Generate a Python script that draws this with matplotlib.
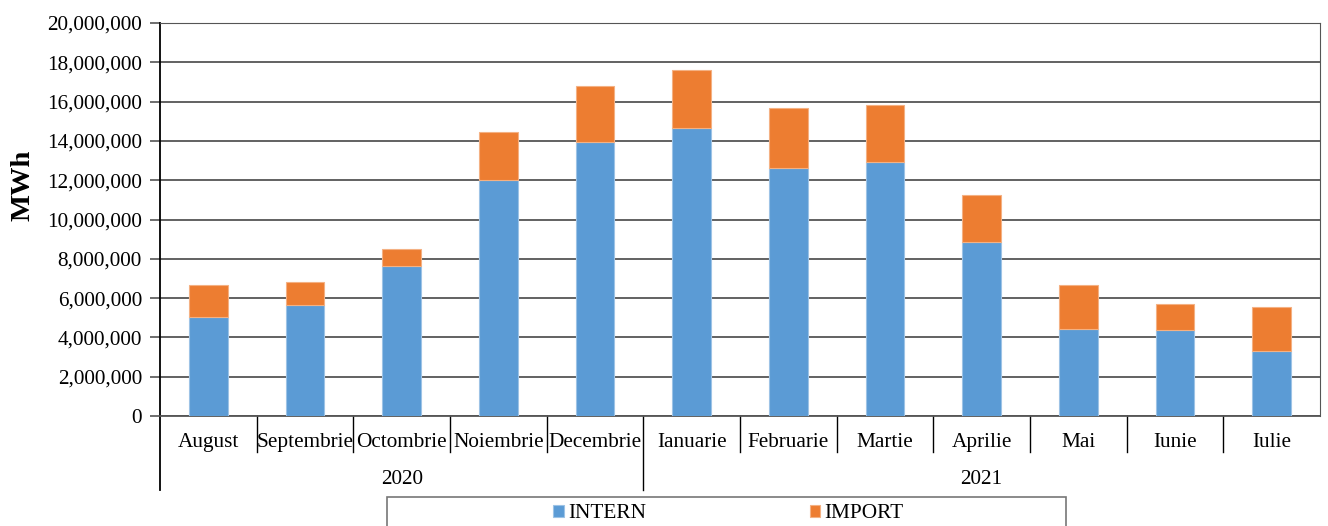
import matplotlib.pyplot as plt
import numpy as np
from matplotlib.patches import Rectangle
from matplotlib.ticker import FuncFormatter

plt.rcParams['font.family'] = ['Liberation Serif', 'DejaVu Serif']

months = ["August", "Septembrie", "Octombrie", "Noiembrie", "Decembrie", "Ianuarie",
          "Februarie", "Martie", "Aprilie", "Mai", "Iunie", "Iulie"]
years = ["2020", "2021"]
months_per_year = [5, 7]
intern = [5050000, 5660000, 7620000, 12030000, 13920000, 14680000,
          12640000, 12950000, 8880000, 4440000, 4360000, 3290000]
total = [6650000, 6800000, 8500000, 14440000, 16780000, 17630000,
         15660000, 15830000, 11270000, 6650000, 5680000, 5530000]
import_ = [t - i for t, i in zip(total, intern)]

blue = "#5b9bd5"
orange = "#ed7d31"
fs = 15.3


def main():
    fig = plt.figure(figsize=(13.28, 5.26), dpi=100)
    W, H = 1328, 526
    ax = fig.add_axes([160 / W, 1 - 416 / H, 1160 / W, 393 / H])

    x = np.arange(len(months))
    ax.bar(x, intern, width=0.4, color=blue, edgecolor="#9dc3e6", linewidth=0.8,
           label="INTERN", zorder=3)
    ax.bar(x, import_, bottom=intern, width=0.4, color=orange, edgecolor="#f4b183",
           linewidth=0.8, label="IMPORT", zorder=3)

    ax.set_xlim(-0.5, len(months) - 0.5)
    ax.set_ylim(0, 20000000)
    ax.set_yticks(np.arange(0, 20000001, 2000000))
    ax.yaxis.set_major_formatter(FuncFormatter(lambda v, p: f"{int(v):,}"))
    ax.grid(axis="y", color="#555555", linewidth=1.3, zorder=0)
    ax.tick_params(axis="y", length=7, width=1.2, color="#555555", labelsize=fs, pad=6)

    ax.set_xticks(x)
    ax.set_xticklabels(months, fontsize=fs)
    ax.tick_params(axis="x", length=0, pad=12)

    for s in ["top", "right"]:
        ax.spines[s].set_visible(True)
        ax.spines[s].set_color("#555555")
    ax.spines["left"].set_linewidth(1.3)
    ax.spines["bottom"].set_linewidth(1.3)
    ax.spines["bottom"].set_color("#555555")

    ax.set_ylabel("MWh", fontsize=20.5, fontweight="bold")
    ax.yaxis.set_label_coords((36 - 160) / 1160, (416 - 185) / 393)

    # category separators below the axis
    tr = ax.get_xaxis_transform()
    short = -(452 - 416) / 393
    long_ = -(490 - 416) / 393
    for k in range(1, len(months)):
        yb = long_ if k == months_per_year[0] else short
        ax.plot([k - 0.5, k - 0.5], [0, yb], color="black", lw=1, transform=tr, clip_on=False)
    ax.plot([-0.5, -0.5], [0, long_], color="black", lw=1.3, transform=tr, clip_on=False)

    # year labels
    start = -0.5
    for yr, n in zip(years, months_per_year):
        ax.text(start + n / 2, -(479 - 416) / 393, yr, transform=tr, ha="center",
                va="center", fontsize=fs)
        start += n

    # legend
    fig.patches.append(Rectangle((387 / W, -0.05), 679 / W, 0.05 + 29 / H,
                                 transform=fig.transFigure, fill=False,
                                 edgecolor="#777777", lw=1.2))
    fig.legend(loc="center", bbox_to_anchor=(0.5486, 1 - 514 / H), ncol=2, frameon=False,
               fontsize=fs, handlelength=0.5, handleheight=0.5, handletextpad=0.2,
               columnspacing=7.7, borderpad=0)

    fig.savefig("out.png", dpi=100)
    plt.close(fig)


if __name__ == "__main__":
    main()
